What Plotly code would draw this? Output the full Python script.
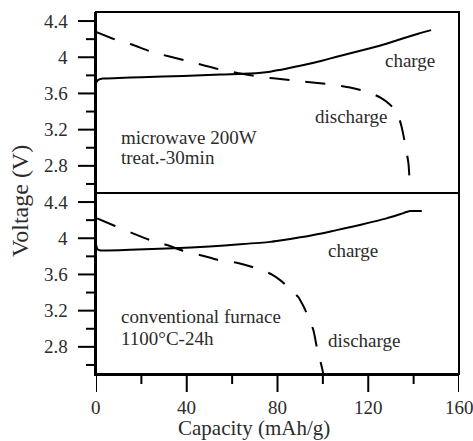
import plotly.graph_objects as go

# ---- data ----
top_charge_x = [0, 1, 3, 10, 20, 38.5, 55, 67.9, 76.7, 81.1, 90, 100, 106.1, 113, 120.8, 128, 135.5, 142, 147.7]
top_charge_y = [3.72, 3.75, 3.765, 3.77, 3.78, 3.793, 3.81, 3.82, 3.84, 3.86, 3.905, 3.965, 4.006, 4.05, 4.099, 4.15, 4.21, 4.26, 4.30]

top_dis_x = [0, 9.1, 16.4, 24.5, 40, 55.4, 70.8, 78.2, 90, 103.1, 112, 117.8, 122, 125.9, 129, 131.8, 133.5, 134.7, 136.2, 137.7, 138.3]
top_dis_y = [4.28, 4.19, 4.135, 4.06, 3.96, 3.86, 3.79, 3.767, 3.735, 3.70, 3.665, 3.63, 3.595, 3.546, 3.49, 3.417, 3.33, 3.233, 3.05, 2.83, 2.6]

bot_charge_x = [0, 0.6, 2, 5, 15, 34.1, 50, 63.5, 76.7, 81.1, 90, 98.7, 106, 113.4, 120, 128.1, 134, 138.4, 143.6]
bot_charge_y = [3.93, 3.88, 3.865, 3.865, 3.872, 3.889, 3.91, 3.933, 3.96, 3.975, 4.01, 4.05, 4.09, 4.13, 4.17, 4.22, 4.265, 4.30, 4.30]

bot_dis_x = [0.5, 8.4, 15.7, 23.8, 31.2, 38.5, 46.6, 53.9, 62, 69.3, 74, 77.4, 81, 83.3, 86, 89.2, 91, 92.9, 95.8, 97.3, 99.5, 100.2]
bot_dis_y = [4.22, 4.135, 4.06, 3.98, 3.925, 3.86, 3.81, 3.76, 3.73, 3.68, 3.64, 3.60, 3.54, 3.49, 3.42, 3.35, 3.27, 3.17, 2.986, 2.80, 2.58, 2.5]

x_ticks = [0, 40, 80, 120, 160]
x_ticktext = ["0", "40", "80", "120", "160"]
x_minor = [20, 60, 100, 140]
y_ticks = [2.8, 3.2, 3.6, 4.0, 4.4]
y_ticktext = ["2.8", "3.2", "3.6", "4", "4.4"]
y_minor = [2.6, 3.0, 3.4, 3.8, 4.2]

FONT = "Liberation Serif"
TXT = "#2b2b2b"
TICKF = 19
MAJ, MIN = 18, 10

fig = go.Figure()
solid = dict(color="black", width=2, shape="spline", smoothing=0.6)
dashed = dict(color="black", width=2, dash="20px,16px", shape="spline", smoothing=0.6)

fig.add_trace(go.Scatter(x=top_charge_x, y=top_charge_y, mode="lines", line=solid, xaxis="x", yaxis="y"))
fig.add_trace(go.Scatter(x=top_dis_x, y=top_dis_y, mode="lines", line=dashed, xaxis="x", yaxis="y"))
fig.add_trace(go.Scatter(x=bot_charge_x, y=bot_charge_y, mode="lines", line=solid, xaxis="x2", yaxis="y2"))
fig.add_trace(go.Scatter(x=bot_dis_x, y=bot_dis_y, mode="lines", line=dashed, xaxis="x2", yaxis="y2"))

yax = dict(range=[2.5, 4.5], showticklabels=False, ticks="",
           showline=True, linewidth=2, linecolor="black", showgrid=False, zeroline=False)

fig.update_layout(
    width=473, height=441,
    margin=dict(l=96, r=14, t=12, b=67),
    paper_bgcolor="white", plot_bgcolor="white",
    showlegend=False,
    font=dict(family=FONT, color=TXT),
    xaxis=dict(domain=[0, 1], anchor="y", range=[0, 160], showticklabels=False, ticks="",
               showline=False, showgrid=False, zeroline=False),
    yaxis=dict(domain=[0.5, 1], anchor="x", **yax),
    xaxis2=dict(domain=[0, 1], anchor="y2", range=[0, 160], showticklabels=False, ticks="",
                showline=True, linewidth=2, linecolor="black", showgrid=False, zeroline=False),
    yaxis2=dict(domain=[0, 0.5], anchor="x2", **yax),
)

# frame and divider
fig.add_shape(type="rect", xref="paper", yref="paper", x0=0, x1=1, y0=0, y1=1,
              line=dict(color="black", width=2))
fig.add_shape(type="line", xref="paper", yref="paper", x0=0, x1=1, y0=0.5, y1=0.5,
              line=dict(color="black", width=2))

# tick marks (outside) placed through the axes' scales
tick_line = dict(color="black", width=2)
for yref in ("y", "y2"):
    for vals, ln in ((y_ticks, MAJ), (y_minor, MIN)):
        for v in vals:
            fig.add_shape(type="line", xref="paper", yref=yref, xsizemode="pixel", xanchor=0,
                          x0=0, x1=-ln, y0=v, y1=v, line=tick_line)
    for v, t in zip(y_ticks, y_ticktext):
        fig.add_annotation(xref="paper", yref=yref, x=0, y=v, text=t, showarrow=False,
                           xanchor="right", yanchor="middle", xshift=-26,
                           font=dict(family=FONT, size=TICKF, color=TXT))
for vals, ln in ((x_ticks, MAJ), (x_minor, MIN)):
    for v in vals:
        fig.add_shape(type="line", xref="x2", yref="paper", ysizemode="pixel", yanchor=0,
                      y0=0, y1=-ln, x0=v, x1=v, line=tick_line)
for v, t in zip(x_ticks, x_ticktext):
    fig.add_annotation(xref="x2", yref="paper", x=v, y=0, text=t, showarrow=False,
                       xanchor="center", yanchor="middle", yshift=-33,
                       font=dict(family=FONT, size=TICKF, color=TXT))

AF = dict(family=FONT, size=19, color=TXT)
notes = [
    ("x", "y", 126.6, 3.96, "charge"),
    ("x", "y", 95.8, 3.34, "discharge"),
    ("x", "y", 10.3, 3.108, "microwave 200W"),
    ("x", "y", 10.3, 2.887, "treat.-30min"),
    ("x2", "y2", 101.4, 3.865, "charge"),
    ("x2", "y2", 101.4, 2.865, "discharge"),
    ("x2", "y2", 10.0, 3.13, "conventional furnace"),
    ("x2", "y2", 10.0, 2.887, "1100°C-24h"),
]
for xr, yr, x, y, t in notes:
    fig.add_annotation(xref=xr, yref=yr, x=x, y=y, text=t, showarrow=False,
                       xanchor="left", yanchor="middle", font=AF)

fig.add_annotation(xref="paper", yref="paper", x=(254 - 96) / 363, y=(374 - 428) / 362,
                   text="Capacity (mAh/g)", showarrow=False, xanchor="center", yanchor="middle",
                   font=dict(family=FONT, size=21, color=TXT))
fig.add_annotation(xref="paper", yref="paper", x=(20 - 96) / 363, y=(374 - 201) / 362,
                   text="Voltage (V)", showarrow=False, xanchor="center", yanchor="middle",
                   textangle=-90, font=dict(family=FONT, size=24, color=TXT))

fig.write_html("out.html")
